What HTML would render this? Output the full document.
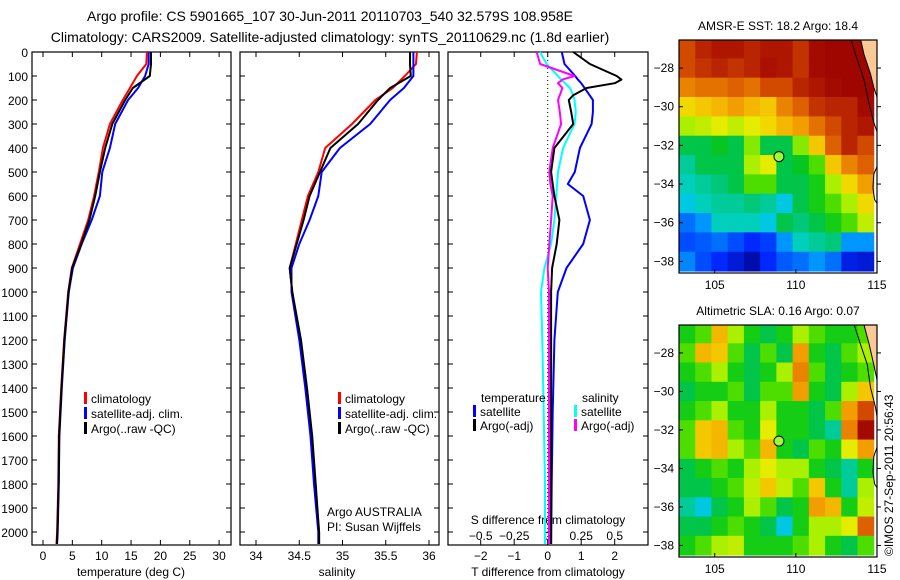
<!DOCTYPE html>
<html><head><meta charset="utf-8">
<style>
html,body{margin:0;padding:0;background:#fff;}
svg{display:block;font-family:"Liberation Sans",sans-serif;}
text{fill:#000;}
</style></head>
<body>
<svg id="fig" width="900" height="580" viewBox="0 0 900 580" xmlns="http://www.w3.org/2000/svg">
<rect width="900" height="580" fill="#fff"/>
<text x="330" y="21" font-size="14" text-anchor="middle">Argo profile: CS 5901665_107 30-Jun-2011 20110703_540 32.579S 108.958E</text>
<text x="330" y="42" font-size="14" text-anchor="middle">Climatology: CARS2009. Satellite-adjusted climatology: synTS_20110629.nc (1.8d earlier)</text>
<g id="g"></g>
</svg>
<script>
// ---------- data ----------
const depths = [0,50,100,150,200,300,400,500,600,700,800,900,1000,1200,1400,1600,1800,2000,2050];
const tempClim = [17.7,17.6,16.0,14.8,13.6,11.4,10.2,9.5,8.7,7.7,6.3,4.9,4.3,3.6,3.1,2.7,2.6,2.4,2.3];
const tempSat  = [18.0,18.0,17.4,16.2,14.5,12.3,11.4,10.1,9.7,8.3,6.6,5.1,4.4,3.7,3.2,2.8,2.7,2.5,2.4];
const tempArgo = [18.4,18.4,18.2,15.3,14.0,11.8,10.6,9.7,8.9,7.9,6.5,4.95,4.35,3.65,3.15,2.75,2.65,2.45,2.35];
const salClim = [35.86,35.85,35.72,35.58,35.38,35.11,34.80,34.72,34.60,34.53,34.46,34.39,34.42,34.51,34.58,34.64,34.68,34.73,34.73];
const salSat  = [35.82,35.82,35.82,35.71,35.55,35.32,34.97,34.76,34.72,34.62,34.50,34.41,34.41,34.50,34.57,34.63,34.67,34.72,34.72];
const salArgo = [35.78,35.78,35.79,35.55,35.41,35.18,34.86,34.74,34.62,34.55,34.47,34.39,34.42,34.52,34.59,34.65,34.69,34.73,34.73];
const diffDepths = [0,50,100,115,130,150,180,200,250,300,400,500,550,600,700,800,900,1000,1200,1500,1800,2050];
const tDiffSat  = [0.42,0.5,0.82,0.9,1.0,1.1,1.25,1.35,1.35,1.31,0.96,0.81,0.6,1.06,1.26,1.06,0.56,0.3,0.2,0.15,0.12,0.1];
const tDiffArgo = [0.76,1.26,2.06,2.2,2.0,1.16,0.76,0.63,0.7,0.76,0.2,0.1,0.15,0.2,0.35,0.27,0.13,0.1,0.1,0.1,0.1,0.1];
const sDiffSat  = [-0.058,-0.008,0.077,0.1,0.13,0.166,0.19,0.2,0.21,0.2,0.115,0.077,0.07,0.064,0.05,0.025,-0.025,-0.05,-0.04,-0.03,-0.02,-0.02];
const sDiffArgo = [-0.082,-0.057,0.2,0.11,0.077,0.11,0.09,0.077,0.09,0.1,0.037,0.012,0.02,0.037,0.025,0.012,0.0,0.01,0.01,0.01,0.01,0.01];
const depthTicks = [0,100,200,300,400,500,600,700,800,900,1000,1100,1200,1300,1400,1500,1600,1700,1800,1900,2000];
const tempTicks = [0,5,10,15,20,25,30];
const salTicks = [34,34.5,35,35.5,36];
const salTickLabels = ["34","34.5","35","35.5","36"];
const tdTicks = [-2,-1,0,1,2];
const sdTicks = [-0.5,-0.25,0,0.25,0.5];
const sdTickLabels = ["-0.5","-0.25","0","0.25","0.5"];
const mapLons = [103.3,104.3,105.3,106.3,107.3,108.3,109.3,110.3,111.3,112.3,113.3,114.3];
const mapLats = [-27,-28,-29,-30,-31,-32,-33,-34,-35,-36,-37,-38];
const sstRows = [
[.85,.9,.92,.92,.9,.92,.92,.88,.95,.97,.97,.97],
[.85,.88,.9,.88,.9,.93,.92,.88,.95,.97,.97,.97],
[.78,.8,.8,.82,.8,.85,.85,.9,.92,.95,.97,.97],
[.68,.7,.72,.75,.72,.7,.78,.82,.88,.9,.9,.95],
[.6,.62,.65,.62,.65,.68,.72,.75,.8,.85,.9,.92],
[.45,.45,.48,.45,.58,.45,.45,.58,.7,.82,.9,.85],
[.4,.45,.45,.45,.6,.65,.45,.48,.55,.7,.78,.82],
[.38,.4,.42,.45,.55,.55,.45,.45,.5,.6,.68,.75],
[.35,.38,.4,.4,.42,.4,.35,.45,.5,.55,.6,.68],
[.25,.3,.38,.38,.38,.35,.45,.42,.45,.5,.55,.62],
[.2,.22,.25,.2,.15,.18,.3,.38,.4,.42,.3,.3],
[.28,.2,.15,.1,.05,.15,.22,.25,.3,.25,.12,.1]];
const slaRows = [
[.5,.55,.72,.6,.5,.45,.5,.6,.55,.5,.5,.55],
[.55,.72,.7,.55,.45,.55,.45,.75,.5,.45,.55,.6],
[.5,.55,.6,.5,.45,.5,.6,.78,.55,.45,.5,.55],
[.45,.5,.5,.55,.45,.55,.55,.75,.5,.45,.6,.7],
[.5,.55,.6,.5,.5,.6,.5,.5,.45,.55,.75,.85],
[.55,.7,.72,.55,.5,.65,.5,.5,.45,.4,.78,.95],
[.55,.7,.72,.6,.55,.72,.5,.45,.55,.5,.65,.75],
[.45,.5,.55,.5,.6,.65,.6,.6,.5,.45,.4,.5],
[.45,.45,.5,.55,.62,.7,.62,.55,.7,.5,.4,.6],
[.4,.35,.45,.5,.6,.55,.45,.5,.75,.72,.5,.62],
[.45,.45,.5,.55,.5,.45,.35,.5,.6,.6,.65,.82],
[.5,.55,.6,.62,.5,.5,.5,.55,.6,.5,.45,.55]];
const lonTicks = [105,110,115];
const latTicks = [-28,-30,-32,-34,-36,-38];
const floatLon = 108.958, floatLat = -32.579;

// ---------- helpers ----------
const NS = "http://www.w3.org/2000/svg";
const G = document.getElementById('g');
function el(tag, a, parent){ const e=document.createElementNS(NS,tag); for(const k in a) e.setAttribute(k,a[k]); (parent||G).appendChild(e); return e; }
function txt(s, x, y, size, anchor){ const t=el('text',{x:x,y:y,'font-size':size,'text-anchor':anchor||'start'}); t.textContent=s; return t; }
const Y0=52, YB=545;
const yD = d => Y0 + d*0.24;
const xT = v => 43 + v*5.87;
const xS = v => 256 + (v-34)*86.5;
const xTD = v => 547.7 + v*33.5;
const xSD = v => 547.7 + v*134;
const cmStops = [[0,[0,0,130]],[0.15,[0,40,255]],[0.3,[0,150,255]],[0.36,[0,210,220]],[0.42,[0,200,120]],[0.47,[0,195,40]],[0.53,[40,215,0]],[0.6,[170,240,0]],[0.66,[240,235,0]],[0.74,[245,165,0]],[0.84,[215,80,0]],[0.93,[170,15,0]],[1,[150,0,0]]];
function cmap(v){
  for(let i=1;i<cmStops.length;i++){ if(v<=cmStops[i][0]){ const a=cmStops[i-1],b=cmStops[i],t=(v-a[0])/(b[0]-a[0]);
    return 'rgb('+a[1].map((c,k)=>Math.round(c+(b[1][k]-c)*t)).join(',')+')'; } }
  return 'rgb(150,0,0)';
}

function panel(x0,x1,name){
  const r=el('rect',{x:x0,y:Y0,width:x1-x0,height:YB-Y0,fill:'none',stroke:'#000','stroke-width':1.2});
  
  
  depthTicks.forEach(d=>{ el('line',{x1:x0,x2:x0+5,y1:yD(d),y2:yD(d),stroke:'#000'}); el('line',{x1:x1-5,x2:x1,y1:yD(d),y2:yD(d),stroke:'#000'}); });
}
function line(xs, ys, xf, color, w, name){
  const pts = xs.map((v,i)=>xf(v).toFixed(1)+','+yD(ys[i]).toFixed(1)).join(' ');
  const p=el('polyline',{points:pts,fill:'none',stroke:color,'stroke-width':w,'stroke-linejoin':'round'});
  
  
}
function legend(x,y,color,label,name){
  const m=el('rect',{x:x,y:y-11,width:3,height:12,fill:color});
  
  
  const t=txt(label,x+7,y,12);
  
  
}

// ---------- depth axis ----------
depthTicks.forEach(d=>{ const t=txt(String(d),28,yD(d)+5,12,'end');   });

// ---------- panel 1: temperature ----------
panel(32,231,'temperature-panel');
tempTicks.forEach(v=>{ el('line',{x1:xT(v),x2:xT(v),y1:YB,y2:YB-5,stroke:'#000'}); el('line',{x1:xT(v),x2:xT(v),y1:Y0,y2:Y0+5,stroke:'#000'});
  const t=txt(String(v),xT(v),560,12,'middle');   });
{const t=txt('temperature (deg C)',131,576,12,'middle');  }
line(tempClim,depths,xT,'#f00',2,'temperature-climatology-line');
line(tempSat,depths,xT,'#00f',2,'temperature-satellite-line');
line(tempArgo,depths,xT,'#000',2,'temperature-argo-line');
legend(84,403,'#f00','climatology','temp-legend-climatology');
legend(84,418,'#00f','satellite-adj. clim.','temp-legend-satellite');
legend(84,433,'#000','Argo(..raw -QC)','temp-legend-argo');

// ---------- panel 2: salinity ----------
panel(240,439,'salinity-panel');
salTicks.forEach((v,i)=>{ el('line',{x1:xS(v),x2:xS(v),y1:YB,y2:YB-5,stroke:'#000'}); el('line',{x1:xS(v),x2:xS(v),y1:Y0,y2:Y0+5,stroke:'#000'});
  const t=txt(salTickLabels[i],xS(v),560,12,'middle');   });
{const t=txt('salinity',337,576,12,'middle');  }
line(salClim,depths,xS,'#f00',2,'salinity-climatology-line');
line(salSat,depths,xS,'#00f',2,'salinity-satellite-line');
line(salArgo,depths,xS,'#000',2,'salinity-argo-line');
legend(338,403,'#f00','climatology','sal-legend-climatology');
legend(338,418,'#00f','satellite-adj. clim.','sal-legend-satellite');
legend(338,433,'#000','Argo(..raw -QC)','sal-legend-argo');
{const t=txt('Argo AUSTRALIA',327,516,12);  }
{const t=txt('PI: Susan Wijffels',327,531,12);  }

// ---------- panel 3: differences ----------
panel(448,648,'difference-panel');
{const z=el('line',{x1:xTD(0),x2:xTD(0),y1:Y0,y2:YB,stroke:'#000','stroke-dasharray':'1,3'});  }
tdTicks.forEach(v=>{ el('line',{x1:xTD(v),x2:xTD(v),y1:YB,y2:YB-5,stroke:'#000'}); el('line',{x1:xTD(v),x2:xTD(v),y1:Y0,y2:Y0+5,stroke:'#000'});
  const t=txt(String(v).replace('-','\u2212'),xTD(v),560,12,'middle');   });
sdTicks.forEach((v,i)=>{ const t=txt(sdTickLabels[i].replace('-','\u2212'),xSD(v),540,12,'middle');   });
{const t=txt('T difference from climatology',548,576,12,'middle');  }
{const t=txt('S difference from climatology',548,524,12,'middle');  }
line(sDiffSat,diffDepths,xSD,'#0ff',2,'salinity-satellite-diff-line');
line(tDiffSat,diffDepths,xTD,'#00f',2,'temperature-satellite-diff-line');
line(sDiffArgo,diffDepths,xSD,'#f0f',2,'salinity-argo-diff-line');
line(tDiffArgo,diffDepths,xTD,'#000',2,'temperature-argo-diff-line');
{const t=txt('temperature',481,402,12);  }
{const t=txt('salinity',582,402,12);  }
legend(473,416,'#00f','satellite','diff-legend-t-satellite');
legend(473,430,'#000','Argo(-adj)','diff-legend-t-argo');
legend(574,416,'#0ff','satellite','diff-legend-s-satellite');
legend(574,430,'#f0f','Argo(-adj)','diff-legend-s-argo');

// ---------- maps ----------
function drawMap(top,bottom,rows,title,name,landPts,coast,contour2){
  const L=679,R=877,lon0=102.8,lon1=115,latTop=-26.55,latBot=-38.6;
  const mx=v=>L+(v-lon0)/(lon1-lon0)*(R-L);
  const my=v=>top+(latTop-v)/(latTop-latBot)*(bottom-top);
  const tt=txt(title,(L+R)/2,top-10,12,'middle');  
  rows.forEach((row,ri)=>row.forEach((v,ci)=>{
    const x0=Math.max(L,mx(mapLons[ci]-0.5)), x1=Math.min(R,mx(mapLons[ci]+0.5));
    const y0=Math.max(top,my(mapLats[ri]+0.5)), y1=Math.min(bottom,my(mapLats[ri]-0.5));
    const c=el('rect',{x:x0,y:y0,width:x1-x0+0.5,height:y1-y0+0.5,fill:cmap(v)});
    
    
  }));
  const land=el('polygon',{points:landPts.map(p=>mx(p[0])+','+my(p[1])).join(' '),fill:'#fcc896',stroke:'#000','stroke-width':1});
  
  
  const cl=el('polyline',{points:coast.map(p=>mx(p[0])+','+my(p[1])).join(' '),fill:'none',stroke:'#000','stroke-width':1});
  
  
  const c2=el('polyline',{points:contour2.map(p=>mx(p[0])+','+my(p[1])).join(' '),fill:'none',stroke:'#000','stroke-width':1});
  
  
  const f=el('rect',{x:L,y:top,width:R-L,height:bottom-top,fill:'none',stroke:'#000','stroke-width':1.2});
  
  
  lonTicks.forEach(v=>{ el('line',{x1:mx(v),x2:mx(v),y1:bottom,y2:bottom-4,stroke:'#000'});
    const t=txt(String(v),mx(v),bottom+16,12,'middle');   });
  latTicks.forEach(v=>{ el('line',{x1:L,x2:L+4,y1:my(v),y2:my(v),stroke:'#000'}); el('line',{x1:R,x2:R+4,y1:my(v),y2:my(v),stroke:'#000'});
    const t=txt(String(v).replace('-','\u2212'),L-5,my(v)+4,12,'end');   });
  const m=el('circle',{cx:mx(floatLon),cy:my(floatLat),r:5,fill:'#9f3',stroke:'#000','stroke-width':1});
  
  
}
drawMap(40,273,sstRows,'AMSR-E SST: 18.2  Argo: 18.4','sst-map',
  [[114.0,-26.55],[115,-26.55],[115,-29.5],[114.8,-29.0],[114.6,-28.3],[114.2,-27.3]],
  [[113.4,-26.55],[113.8,-27.6],[114.2,-28.6],[114.5,-29.8],[114.8,-30.8],[115,-31.3]],
  [[115,-33.1],[114.8,-33.5],[114.75,-34.2],[114.85,-34.8],[115,-35.0]]);
drawMap(325,557,slaRows,'Altimetric SLA: 0.16  Argo: 0.07','sla-map',
  [[114.2,-26.55],[115,-26.55],[115,-29.4],[114.8,-28.6],[114.5,-27.5]],
  [[113.6,-26.55],[114.0,-27.6],[114.4,-28.6],[114.6,-29.8],[114.9,-30.8],[115,-31.3]],
  [[115,-32.9],[114.8,-33.4],[114.75,-34.2],[114.85,-34.8],[115,-35.0]]);
{const t=el('text',{x:0,y:0,'font-size':12,transform:'translate(893,556) rotate(-90)'}); t.textContent='\u00A9IMOS 27-Sep-2011 20:56:43';
  }
</script>
</body></html>
